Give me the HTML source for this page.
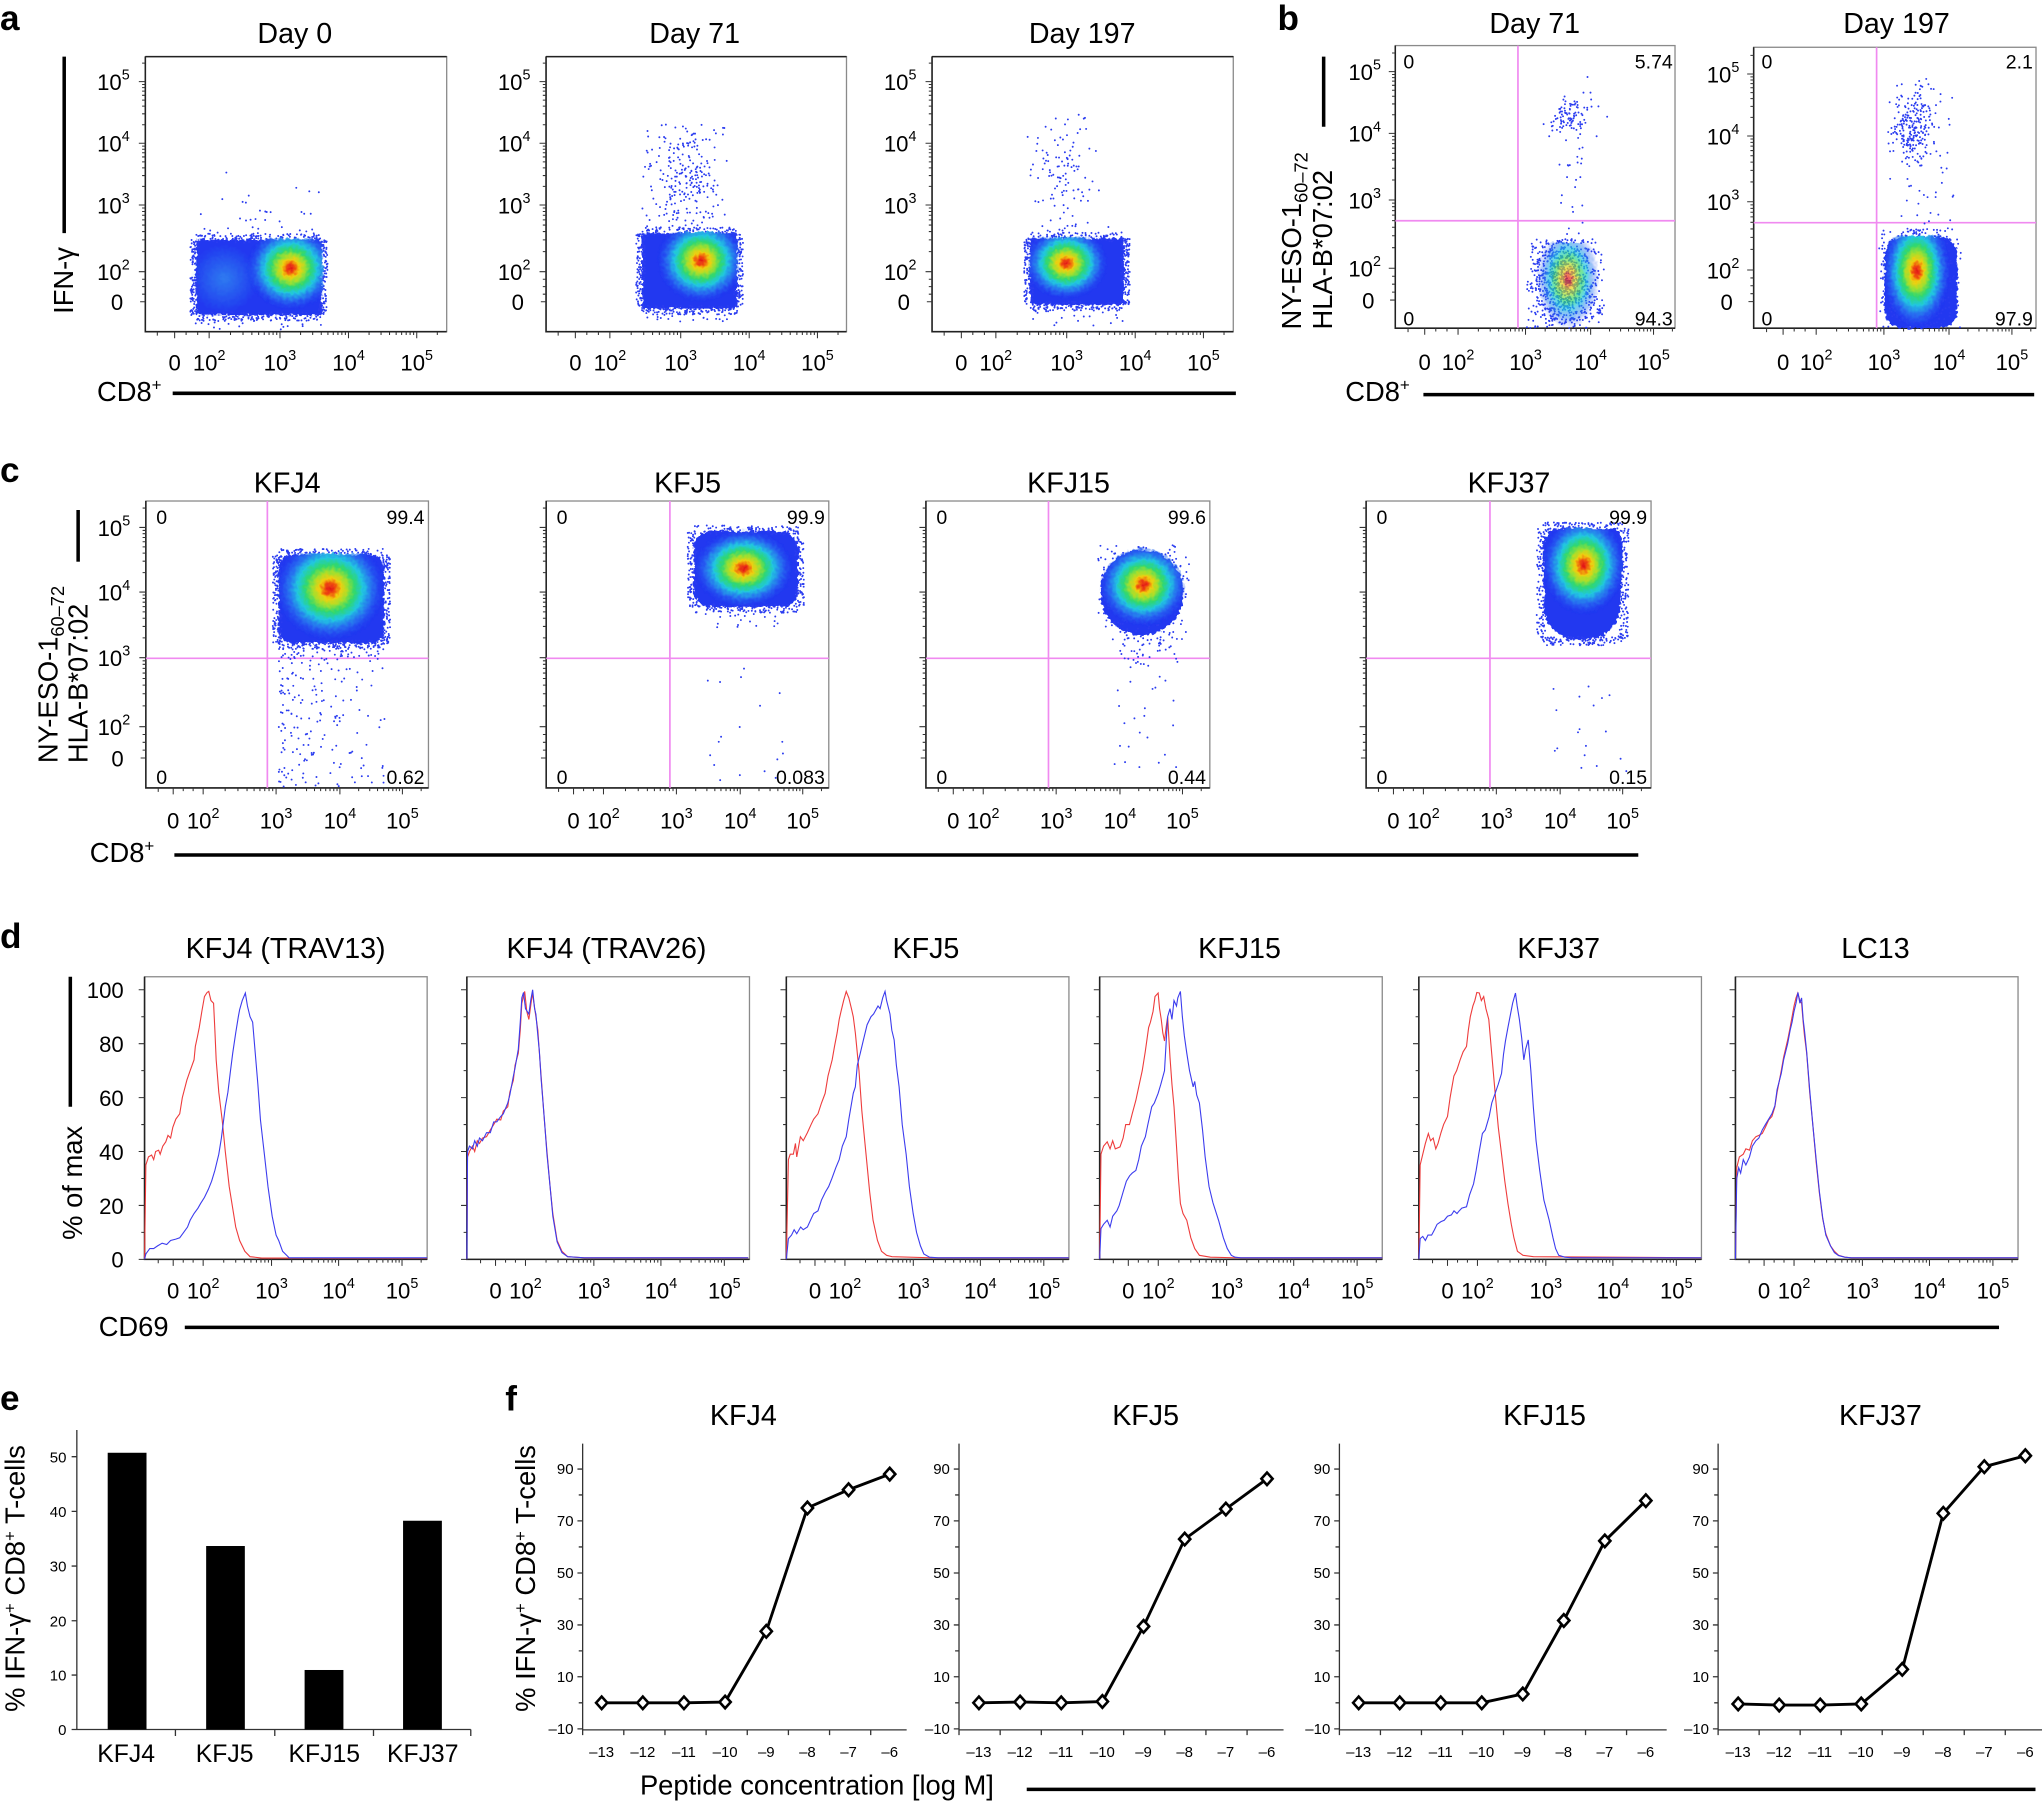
<!DOCTYPE html>
<html><head><meta charset="utf-8">
<style>
html,body{margin:0;padding:0;background:#fff;}
svg{display:block;}
text{font-family:"Liberation Sans",Arial,sans-serif;fill:#000;}
.tt{font-size:22px;text-anchor:middle}
.tk{font-size:17px}
.sp{font-size:11px}
.cn{font-size:15px}
.al{font-size:21px}
.lb{font-size:27px;font-weight:bold}
.sm{font-size:11.5px}
.bx{font-size:19px;text-anchor:middle}
.e{text-anchor:end}
.m{text-anchor:middle}
.box{fill:none;stroke:#8a8a8a;stroke-width:1}
.ax{stroke:#222;stroke-width:1.2;fill:none}
.pk{stroke:#f08af0;stroke-width:1.3}
.thick{stroke:#000;stroke-width:2.7}
.hr{fill:none;stroke:#ee3c3c;stroke-width:1.1}
.hb{fill:none;stroke:#3c3cee;stroke-width:1.1}
.blue{fill:#2038f0}
</style></head>
<body>
<svg width="2042" height="1804" viewBox="0 0 1568 1385.2" preserveAspectRatio="none" xmlns="http://www.w3.org/2000/svg">
<defs>
<radialGradient id="heat">
<stop offset="0" stop-color="#e0101a"/>
<stop offset="0.1" stop-color="#f05010"/>
<stop offset="0.2" stop-color="#f0d010"/>
<stop offset="0.32" stop-color="#a0e030"/>
<stop offset="0.45" stop-color="#30d870"/>
<stop offset="0.6" stop-color="#20c8e0"/>
<stop offset="0.78" stop-color="#2a80f0" stop-opacity="0.7"/>
<stop offset="1" stop-color="#2140f2" stop-opacity="0"/>
</radialGradient>
<radialGradient id="lite">
<stop offset="0" stop-color="#38a8f0" stop-opacity="0.6"/>
<stop offset="1" stop-color="#38a8f0" stop-opacity="0"/>
</radialGradient>
<filter id="rough" x="-2%" y="-5%" width="104%" height="110%">
<feTurbulence type="fractalNoise" baseFrequency="0.4" numOctaves="1" seed="3" result="n"/>
<feDisplacementMap in="SourceGraphic" in2="n" scale="5" xChannelSelector="R" yChannelSelector="G"/>
</filter>
<clipPath id="ca0"><rect x="149" y="183" width="99" height="60"/></clipPath>
<clipPath id="ca1"><rect x="492" y="178" width="75" height="60"/></clipPath>
<clipPath id="ca2"><rect x="790" y="182" width="74" height="53"/></clipPath>
<clipPath id="cb0"><rect x="1174" y="186" width="56" height="66" rx="8"/></clipPath>
<clipPath id="cb1"><rect x="1446" y="181" width="58" height="71" rx="14"/></clipPath>
<clipPath id="cc0"><rect x="213" y="425" width="83" height="70" rx="11"/></clipPath>
<clipPath id="cc1"><rect x="531.6" y="407" width="82.2" height="60" rx="13"/></clipPath>
<clipPath id="cc2"><ellipse cx="877" cy="455" rx="33" ry="34"/></clipPath>
<clipPath id="cc3"><path d="M1184.5 420 Q1186 405.7 1200 405.7 L1236 405.7 Q1246 406 1246 420 L1244 470 Q1238 491 1215 491 Q1190 491 1186 470 Z"/></clipPath>
</defs>
<rect x="0" y="0" width="1568" height="1385.2" fill="#fff"/>

<!-- ============ PANEL A ============ -->
<text class="lb" x="0" y="23">a</text>
<text class="tt" x="226.4" y="33">Day 0</text>
<text class="tt" x="533.4" y="33">Day 71</text>
<text class="tt" x="831" y="33">Day 197</text>

<rect class="box" x="111.6" y="43.5" width="231.4" height="211.2"/>
<rect class="box" x="419.3" y="43.5" width="230.7" height="211.2"/>
<rect class="box" x="715.7" y="43.5" width="231.3" height="211.2"/>
<path class="ax" d="M111.6 43.5H343M111.6 43.5V254.7H343M419.3 43.5H650M419.3 43.5V254.7H650M715.7 43.5H947M715.7 43.5V254.7H947"/>

<text class="tk e" x="99.6" y="69.1">10<tspan class="sp" dy="-8">5</tspan></text>
<text class="tk e" x="99.6" y="116.4">10<tspan class="sp" dy="-8">4</tspan></text>
<text class="tk e" x="99.6" y="163.8">10<tspan class="sp" dy="-8">3</tspan></text>
<text class="tk e" x="99.6" y="215">10<tspan class="sp" dy="-8">2</tspan></text>
<text class="tk e" x="94.6" y="238.1">0</text>
<text class="tk e" x="407.3" y="69.1">10<tspan class="sp" dy="-8">5</tspan></text>
<text class="tk e" x="407.3" y="116.4">10<tspan class="sp" dy="-8">4</tspan></text>
<text class="tk e" x="407.3" y="163.8">10<tspan class="sp" dy="-8">3</tspan></text>
<text class="tk e" x="407.3" y="215">10<tspan class="sp" dy="-8">2</tspan></text>
<text class="tk e" x="402.3" y="238.1">0</text>
<text class="tk e" x="703.7" y="69.1">10<tspan class="sp" dy="-8">5</tspan></text>
<text class="tk e" x="703.7" y="116.4">10<tspan class="sp" dy="-8">4</tspan></text>
<text class="tk e" x="703.7" y="163.8">10<tspan class="sp" dy="-8">3</tspan></text>
<text class="tk e" x="703.7" y="215">10<tspan class="sp" dy="-8">2</tspan></text>
<text class="tk e" x="698.7" y="238.1">0</text>
<text class="tk m" x="134.1" y="284.6">0</text>
<text class="tk m" x="160.6" y="284.6">10<tspan class="sp" dy="-8">2</tspan></text>
<text class="tk m" x="215" y="284.6">10<tspan class="sp" dy="-8">3</tspan></text>
<text class="tk m" x="267.6" y="284.6">10<tspan class="sp" dy="-8">4</tspan></text>
<text class="tk m" x="320" y="284.6">10<tspan class="sp" dy="-8">5</tspan></text>
<text class="tk m" x="441.8" y="284.6">0</text>
<text class="tk m" x="468.3" y="284.6">10<tspan class="sp" dy="-8">2</tspan></text>
<text class="tk m" x="522.7" y="284.6">10<tspan class="sp" dy="-8">3</tspan></text>
<text class="tk m" x="575.3" y="284.6">10<tspan class="sp" dy="-8">4</tspan></text>
<text class="tk m" x="627.7" y="284.6">10<tspan class="sp" dy="-8">5</tspan></text>
<text class="tk m" x="738.2" y="284.6">0</text>
<text class="tk m" x="764.7" y="284.6">10<tspan class="sp" dy="-8">2</tspan></text>
<text class="tk m" x="819.1" y="284.6">10<tspan class="sp" dy="-8">3</tspan></text>
<text class="tk m" x="871.7" y="284.6">10<tspan class="sp" dy="-8">4</tspan></text>
<text class="tk m" x="924.1" y="284.6">10<tspan class="sp" dy="-8">5</tspan></text>

<text class="al" transform="translate(56,241) rotate(-90)">IFN-γ</text>
<line class="thick" x1="49.3" y1="43.5" x2="49.3" y2="179"/>
<text class="al" x="74.5" y="308">CD8<tspan dy="-8" font-size="13">+</tspan></text>
<line class="thick" x1="132.6" y1="302" x2="949" y2="302"/>

<!-- ============ PANEL B ============ -->
<text class="lb" x="981" y="23">b</text>
<text class="tt" x="1178.5" y="25.3">Day 71</text>
<text class="tt" x="1456.3" y="25.3">Day 197</text>
<rect class="box" x="1071.4" y="35" width="214.8" height="217"/>
<rect class="box" x="1346.6" y="36.3" width="216.8" height="215.7"/>
<path class="ax" d="M1071.4 35V252H1286.2M1346.6 36.3V252H1563.4"/>
<path class="pk" d="M1165.6 35V252M1071.4 169.5H1286.2M1441 36.3V252M1346.6 171H1563.4"/>
<text class="cn" x="1077.6" y="52.5">0</text>
<text class="cn e" x="1284.5" y="52.5">5.74</text>
<text class="cn" x="1077.6" y="250">0</text>
<text class="cn e" x="1284.5" y="250">94.3</text>
<text class="cn" x="1352.6" y="52.5">0</text>
<text class="cn e" x="1561" y="52.5">2.1</text>
<text class="cn" x="1352.6" y="250">0</text>
<text class="cn e" x="1561" y="250">97.9</text>

<text class="tk e" x="1060.4" y="61.4">10<tspan class="sp" dy="-8">5</tspan></text>
<text class="tk e" x="1060.4" y="108.8">10<tspan class="sp" dy="-8">4</tspan></text>
<text class="tk e" x="1060.4" y="160">10<tspan class="sp" dy="-8">3</tspan></text>
<text class="tk e" x="1060.4" y="212.4">10<tspan class="sp" dy="-8">2</tspan></text>
<text class="tk e" x="1055.4" y="236.8">0</text>
<text class="tk e" x="1335.6" y="63.2">10<tspan class="sp" dy="-8">5</tspan></text>
<text class="tk e" x="1335.6" y="110.8">10<tspan class="sp" dy="-8">4</tspan></text>
<text class="tk e" x="1335.6" y="161.3">10<tspan class="sp" dy="-8">3</tspan></text>
<text class="tk e" x="1335.6" y="213.7">10<tspan class="sp" dy="-8">2</tspan></text>
<text class="tk e" x="1330.6" y="238">0</text>

<text class="tk m" x="1094" y="284">0</text>
<text class="tk m" x="1119.6" y="284">10<tspan class="sp" dy="-8">2</tspan></text>
<text class="tk m" x="1171.4" y="284">10<tspan class="sp" dy="-8">3</tspan></text>
<text class="tk m" x="1221.4" y="284">10<tspan class="sp" dy="-8">4</tspan></text>
<text class="tk m" x="1269.7" y="284">10<tspan class="sp" dy="-8">5</tspan></text>
<text class="tk m" x="1369.2" y="284">0</text>
<text class="tk m" x="1394.6" y="284">10<tspan class="sp" dy="-8">2</tspan></text>
<text class="tk m" x="1446.6" y="284">10<tspan class="sp" dy="-8">3</tspan></text>
<text class="tk m" x="1496.6" y="284">10<tspan class="sp" dy="-8">4</tspan></text>
<text class="tk m" x="1544.9" y="284">10<tspan class="sp" dy="-8">5</tspan></text>

<text class="al" transform="translate(999,253) rotate(-90)">NY-ESO-1<tspan dy="5" font-size="14">60–72</tspan></text>
<text class="al" transform="translate(1023,253) rotate(-90)">HLA-B*07:02</text>
<line class="thick" x1="1016.4" y1="43.5" x2="1016.4" y2="97.3"/>
<text class="al" x="1033" y="308">CD8<tspan dy="-8" font-size="13">+</tspan></text>
<line class="thick" x1="1093" y1="303" x2="1562" y2="303"/>

<!-- ============ PANEL C ============ -->
<text class="lb" x="0" y="370">c</text>
<text class="tt" x="220.5" y="378">KFJ4</text>
<text class="tt" x="528" y="378">KFJ5</text>
<text class="tt" x="820.5" y="378">KFJ15</text>
<text class="tt" x="1158.7" y="378">KFJ37</text>
<rect class="box" x="112" y="384.7" width="217" height="220.3"/>
<rect class="box" x="419.4" y="384.7" width="217" height="220.3"/>
<rect class="box" x="711" y="384.7" width="218" height="220.3"/>
<rect class="box" x="1049" y="384.7" width="218.8" height="220.3"/>
<path class="ax" d="M112 384.7V605H329M419.4 384.7V605H636.4M711 384.7V605H929M1049 384.7V605H1267.8"/>
<path class="pk" d="M205.3 384.7V605M112 505.5H329M514.4 384.7V605M419.4 505.5H636.4M805.1 384.7V605M711 505.5H929M1144.1 384.7V605M1049 505.5H1267.8"/>
<text class="cn" x="120" y="402.5">0</text><text class="cn e" x="326" y="402.5">99.4</text>
<text class="cn" x="120" y="602">0</text><text class="cn e" x="326" y="602">0.62</text>
<text class="cn" x="427.4" y="402.5">0</text><text class="cn e" x="633.4" y="402.5">99.9</text>
<text class="cn" x="427.4" y="602">0</text><text class="cn e" x="633.4" y="602">0.083</text>
<text class="cn" x="719" y="402.5">0</text><text class="cn e" x="926" y="402.5">99.6</text>
<text class="cn" x="719" y="602">0</text><text class="cn e" x="926" y="602">0.44</text>
<text class="cn" x="1057" y="402.5">0</text><text class="cn e" x="1264.8" y="402.5">99.9</text>
<text class="cn" x="1057" y="602">0</text><text class="cn e" x="1264.8" y="602">0.15</text>

<text class="tk e" x="100" y="411.4">10<tspan class="sp" dy="-8">5</tspan></text>
<text class="tk e" x="100" y="461">10<tspan class="sp" dy="-8">4</tspan></text>
<text class="tk e" x="100" y="511.4">10<tspan class="sp" dy="-8">3</tspan></text>
<text class="tk e" x="100" y="564.4">10<tspan class="sp" dy="-8">2</tspan></text>
<text class="tk e" x="95" y="588.4">0</text>

<text class="tk m" x="133" y="636">0</text>
<text class="tk m" x="156" y="636">10<tspan class="sp" dy="-8">2</tspan></text>
<text class="tk m" x="212" y="636">10<tspan class="sp" dy="-8">3</tspan></text>
<text class="tk m" x="261" y="636">10<tspan class="sp" dy="-8">4</tspan></text>
<text class="tk m" x="309" y="636">10<tspan class="sp" dy="-8">5</tspan></text>
<text class="tk m" x="440.4" y="636">0</text>
<text class="tk m" x="463.4" y="636">10<tspan class="sp" dy="-8">2</tspan></text>
<text class="tk m" x="519.4" y="636">10<tspan class="sp" dy="-8">3</tspan></text>
<text class="tk m" x="568.4" y="636">10<tspan class="sp" dy="-8">4</tspan></text>
<text class="tk m" x="616.4" y="636">10<tspan class="sp" dy="-8">5</tspan></text>
<text class="tk m" x="732" y="636">0</text>
<text class="tk m" x="755" y="636">10<tspan class="sp" dy="-8">2</tspan></text>
<text class="tk m" x="811" y="636">10<tspan class="sp" dy="-8">3</tspan></text>
<text class="tk m" x="860" y="636">10<tspan class="sp" dy="-8">4</tspan></text>
<text class="tk m" x="908" y="636">10<tspan class="sp" dy="-8">5</tspan></text>
<text class="tk m" x="1070" y="636">0</text>
<text class="tk m" x="1093" y="636">10<tspan class="sp" dy="-8">2</tspan></text>
<text class="tk m" x="1149" y="636">10<tspan class="sp" dy="-8">3</tspan></text>
<text class="tk m" x="1198" y="636">10<tspan class="sp" dy="-8">4</tspan></text>
<text class="tk m" x="1246" y="636">10<tspan class="sp" dy="-8">5</tspan></text>

<text class="al" transform="translate(44,586) rotate(-90)">NY-ESO-1<tspan dy="5" font-size="14">60–72</tspan></text>
<text class="al" transform="translate(67,586) rotate(-90)">HLA-B*07:02</text>
<line class="thick" x1="60" y1="391.6" x2="60" y2="431.3"/>
<text class="al" x="68.9" y="662">CD8<tspan dy="-8" font-size="13">+</tspan></text>
<line class="thick" x1="133.9" y1="656.5" x2="1258" y2="656.5"/>

<!-- ============ DENSITY BLOBS ============ -->
<g filter="url(#rough)">
<g id="bases">
<rect class="blue" x="150.7" y="184" width="96.3" height="58" rx="3"/>
<ellipse cx="172" cy="214" rx="26" ry="26" fill="url(#lite)"/>
<rect class="blue" x="493" y="179" width="73" height="58" rx="3"/>
<rect class="blue" x="791" y="183" width="72" height="51" rx="3"/>
<rect class="blue" x="1447" y="182" width="56" height="70" rx="14"/>
<rect class="blue" x="214" y="426" width="81" height="68" rx="11"/>
<rect class="blue" x="532.6" y="408" width="80.2" height="58" rx="13"/>
<ellipse class="blue" cx="877" cy="455" rx="32" ry="33"/>
<path class="blue" d="M1184.5 420 Q1186 405.7 1200 405.7 L1236 405.7 Q1246 406 1246 420 L1244 470 Q1238 491 1215 491 Q1190 491 1186 470 Z"/>
</g>
</g>
<g id="dotsg"></g>
<g id="cores" filter="url(#rough)">
<ellipse cx="223.3" cy="206" rx="34" ry="32" fill="url(#heat)" clip-path="url(#ca0)"/>
<ellipse cx="538.3" cy="200" rx="34" ry="32" fill="url(#heat)" clip-path="url(#ca1)"/>
<ellipse cx="818.6" cy="202" rx="32" ry="28" fill="url(#heat)" clip-path="url(#ca2)"/>
<ellipse cx="1204" cy="214" rx="24" ry="38" fill="url(#heat)" opacity="0.7" clip-path="url(#cb0)"/>
<ellipse cx="1471.7" cy="208" rx="26" ry="44" fill="url(#heat)" clip-path="url(#cb1)"/>
<ellipse cx="253.5" cy="452" rx="42" ry="40" fill="url(#heat)" clip-path="url(#cc0)"/>
<ellipse cx="571" cy="436.4" rx="38" ry="30" fill="url(#heat)" clip-path="url(#cc1)"/>
<ellipse cx="878" cy="449" rx="34" ry="32" fill="url(#heat)" clip-path="url(#cc2)"/>
<ellipse cx="1216" cy="434" rx="32" ry="38" fill="url(#heat)" clip-path="url(#cc3)"/>
</g>

<!-- ============ PANEL D ============ -->
<text class="lb" x="0" y="728">d</text>
<text class="tt" x="219.3" y="735.5">KFJ4 (TRAV13)</text>
<text class="tt" x="465.7" y="735.5">KFJ4 (TRAV26)</text>
<text class="tt" x="711" y="735.5">KFJ5</text>
<text class="tt" x="951.8" y="735.5">KFJ15</text>
<text class="tt" x="1196.9" y="735.5">KFJ37</text>
<text class="tt" x="1440.1" y="735.5">LC13</text>
<rect class="box" x="111" y="750" width="217" height="217"/>
<rect class="box" x="358.5" y="750" width="217" height="217"/>
<rect class="box" x="603.8" y="750" width="217" height="217"/>
<rect class="box" x="844.4" y="750" width="217" height="217"/>
<rect class="box" x="1089.5" y="750" width="217" height="217"/>
<rect class="box" x="1332.6" y="750" width="217" height="217"/>
<path class="ax" d="M111 750V967H328M358.5 750V967H575.5M603.8 750V967H820.8M844.4 750V967H1061.4M1089.5 750V967H1306.5M1332.6 750V967H1549.6"/>

<text class="tk e" x="95" y="766.4">100</text>
<text class="tk e" x="95" y="807.8">80</text>
<text class="tk e" x="95" y="849.2">60</text>
<text class="tk e" x="95" y="890.6">40</text>
<text class="tk e" x="95" y="932">20</text>
<text class="tk e" x="95" y="973.4">0</text>

<g transform="translate(111,967) scale(1,-2.07)">
<polyline class="hr" vector-effect="non-scaling-stroke" points="0,0 1,35 3,38 5.4,38.7 7,37 8.5,40 10.8,40.5 12,39 14,42 16.3,43.6 18,46 20,45 21.7,49 24,52 27,54 29,60 32.5,66.5 35,70 38,74 39,79 40.6,82.6 42,86 44,92 46,97.5 48,99 49.3,99.4 51,96 53,95 54,85 55,74 57,62 59.6,51.7 62,40 65,27 68,18 70,12 73,7 77,3 81,1 90,0.5 111,0.5 217,0.5"/>
<polyline class="hb" vector-effect="non-scaling-stroke" points="0,0 1,2 4,4 7,4 10,5 13.5,6 17,5.5 20,7 24,7.5 27,8 30,10 33,12 35,14.5 38,17 41,19 43,20.7 46,23 49,26 51.5,29 54,33 57,39 59,45 62,56.6 64,62 66,70 67.7,76.5 70,84 72,90 73,92.6 75,96 77.4,98.8 79,94 81,90 83,88 85,76.5 87,65 89,51.7 92,39 94.8,26.9 98,16 101,9 103,7 106,3 111,0.6 217,0.6"/>
</g>
<g transform="translate(358.5,967) scale(1,-2.07)">
<polyline class="hr" vector-effect="non-scaling-stroke" points="0,0 0.5,38 2,40 4.3,42 6,40 8,44 9.7,43 12,45 15.1,45.5 18,48 20.6,50 23,52 26,51.7 28,55 31.4,56.6 33,62 35.7,66.5 37,72 39.5,76.5 41,85 42.2,95 44.4,99.4 46,92 47.6,89 49,94 50.3,98.8 51.5,95 53,90 54.5,85 55.7,76.5 57,68 59.5,51.7 61.5,40 63.9,26.9 66,17 69.3,7 73,3 77.4,1 90,0.6 216,0.6"/>
<polyline class="hb" vector-effect="non-scaling-stroke" points="0,0 0.5,40 2,42 4.3,41 6,44 8,42 9.7,45 12,44 15.1,47 18,47 20.6,51 23,51 26,53 28,54 31.4,58 33,61 35.7,68 37,71 39.5,78 41,88 42.2,97 43.5,99 45,93 47.6,91 49,96 50.5,100 52,93 53,91 54.5,83 55.7,77 57,67 59.5,52 61.5,39 63.9,27 66,16 69.3,6.5 73,2.5 77.4,1 90,0.6 216,0.6"/>
</g>
<g transform="translate(603.8,967) scale(1,-2.07)">
<polyline class="hr" vector-effect="non-scaling-stroke" points="0,0 1.6,37 3,39 5.4,39 7,43 8,38 10.8,45.5 13,44 16.2,47 19,50 21,52 24.3,54 27,58 29.8,61.6 32,68 35.2,74 37,79 39,84 40.6,89 42,92 44,96 46,99.4 48,97 50,93 51.4,90 53,84 55.8,70 58,55 61.2,39 64,25 66.6,14.5 70,7 73.1,3 77,1.5 81.2,1 111,0.6 217,0.6"/>
<polyline class="hb" vector-effect="non-scaling-stroke" points="0,0 1.6,7.7 4,9 6,11 8,9.5 11,12 13,11 16.2,12 19,15 21,17 24.3,18 27,22 30,25 32.5,27 35,30 38,34 40.6,37 43,42 46,45.5 48,52 51.4,61.6 53,64 54.5,72 56.8,76.5 59,81 62,87 65,90 67,91 70.4,94 72,93 74,97 75.8,99.4 77,96 79.6,91 81,85 82.8,81.4 84.5,72 86.6,64 89,50 92,39 94.5,27 97.4,17 100,10 103,5 105.6,2 110,0.8 116.4,0.6 217,0.6"/>
</g>
<g transform="translate(844.4,967) scale(1,-2.07)">
<polyline class="hr" vector-effect="non-scaling-stroke" points="0,0 1,39 3,42 5.8,43.6 8,41 10,44 12,41 15.6,41.7 18,45 20,50 22.9,50 25,54 27.8,59 30,64 32.7,70 35,77 37.6,86 39,88 41,92 42.5,97.5 44.9,98.8 46,93 47.3,89 48.5,84 49.8,81 51,86 52.2,90 54,75 55.5,65 57.1,56.6 59,42 60.5,30 62,20.7 64,17 66.9,14.5 70,8 73,4 76.6,1.5 85,0.8 103.5,0.6 217,0.6"/>
<polyline class="hb" vector-effect="non-scaling-stroke" points="0,0 1,11.4 3,13 5.8,14.5 8,12 10,16 13.2,18 15,20 18,25 20.5,29 23,31 25,32 27.8,33 30,37 32,42 35.1,45.5 37,50 40,56.6 42,58 44.9,61.6 47,65 49.8,70 51,80 52.2,90 54,93 55.5,89 57.1,96 59,94 60,97 62,99.4 63.5,90 65,83 66.9,76.5 69,70 71.8,64 73,66 74.5,61 76.6,58 79,48 81,38 84,27 87,21 91.3,14.5 95,8 98,4 101.1,1.5 104,0.8 108.4,0.6 217,0.6"/>
</g>
<g transform="translate(1089.5,967) scale(1,-2.07)">
<polyline class="hr" vector-effect="non-scaling-stroke" points="0,0 1,35 3,39 5,43 7.3,46.7 9,44 11,45 13,41 14.7,43 17,47 19,50 22,53 24,60 26.9,68 29,70 31.7,74 34,77 36.6,79 38,85 39.5,90 41.5,94 43,96 44.5,99 46.4,98.8 48,96 49.8,97.5 51.5,93 53.7,89 56,76 58.6,61.6 61,49 63.5,39 66,29 68.4,20.7 71,13 73,8 75.7,3 80,1.5 88,1 217,0.6"/>
<polyline class="hb" vector-effect="non-scaling-stroke" points="0,0 1,7.7 3,8.5 5,7 7,9 9.8,9 12,11 14,13 17,14 19.5,14.5 22,16 25,16.5 27,18 29.3,17 31,18 33,19 36.6,19.5 39,24 42,28 44,33 46,39 48.8,46.7 51,48 54,53 56,58 58.6,61.6 61,65 63.5,69 65,76 66.5,81 68.4,86 70,90 72,95 74.2,98.8 75.5,94 77.2,89 79,82 80.6,74 82,78 84,81.4 86,70 87.9,56.6 90,44 92.8,33 96,22 100.1,14.5 103,8 105,4 107.4,1.5 112,0.8 117.2,0.6 217,0.6"/>
</g>
<g transform="translate(1332.6,967) scale(1,-2.07)">
<polyline class="hr" vector-effect="non-scaling-stroke" points="0,0 1,34 3,38 6,39 8,41 10.8,40.5 13,44 15.7,45.5 18,46 20.6,46.7 23,49 25.5,51.7 28,53 30.3,56.6 32,62 35.2,70 37,75 40.1,81.4 42,86 43.5,90 45,94 46.5,97 47.9,98.8 49.5,96 50.8,95 52,88 53,83 54.7,76.5 57,62 59.6,49 62,36 64.5,24.4 67,15 69.4,9.5 73,5 76,3 79.2,1.5 84,0.8 88.9,0.6 217,0.6"/>
<polyline class="hb" vector-effect="non-scaling-stroke" points="0,0 1,30 2.5,34 4,32 6,37 8,35 10.8,38 13,42 15.7,44 18,45 20.6,48 23,50 25.5,52 28,54 30.3,57 32,63 35.2,69 37,74 40.1,80 42,85 43.5,88 45,92 46.5,95 48,99 49.5,95 50.8,97 52,89 53,85 54.7,77 57,63 59.6,49 62,37 64.5,25 67,15.5 69.4,9 73,5 76,2.5 79.2,1.4 84,0.8 88.9,0.6 217,0.6"/>
</g>

<text class="tk m" x="133" y="997">0</text><text class="tk m" x="156" y="997">10<tspan class="sp" dy="-8">2</tspan></text><text class="tk m" x="208.5" y="997">10<tspan class="sp" dy="-8">3</tspan></text><text class="tk m" x="260" y="997">10<tspan class="sp" dy="-8">4</tspan></text><text class="tk m" x="308.7" y="997">10<tspan class="sp" dy="-8">5</tspan></text>
<text class="tk m" x="380.5" y="997">0</text><text class="tk m" x="403.5" y="997">10<tspan class="sp" dy="-8">2</tspan></text><text class="tk m" x="456" y="997">10<tspan class="sp" dy="-8">3</tspan></text><text class="tk m" x="507.5" y="997">10<tspan class="sp" dy="-8">4</tspan></text><text class="tk m" x="556.2" y="997">10<tspan class="sp" dy="-8">5</tspan></text>
<text class="tk m" x="625.8" y="997">0</text><text class="tk m" x="648.8" y="997">10<tspan class="sp" dy="-8">2</tspan></text><text class="tk m" x="701.3" y="997">10<tspan class="sp" dy="-8">3</tspan></text><text class="tk m" x="752.8" y="997">10<tspan class="sp" dy="-8">4</tspan></text><text class="tk m" x="801.5" y="997">10<tspan class="sp" dy="-8">5</tspan></text>
<text class="tk m" x="866.4" y="997">0</text><text class="tk m" x="889.4" y="997">10<tspan class="sp" dy="-8">2</tspan></text><text class="tk m" x="941.9" y="997">10<tspan class="sp" dy="-8">3</tspan></text><text class="tk m" x="993.4" y="997">10<tspan class="sp" dy="-8">4</tspan></text><text class="tk m" x="1042.1" y="997">10<tspan class="sp" dy="-8">5</tspan></text>
<text class="tk m" x="1111.5" y="997">0</text><text class="tk m" x="1134.5" y="997">10<tspan class="sp" dy="-8">2</tspan></text><text class="tk m" x="1187" y="997">10<tspan class="sp" dy="-8">3</tspan></text><text class="tk m" x="1238.5" y="997">10<tspan class="sp" dy="-8">4</tspan></text><text class="tk m" x="1287.2" y="997">10<tspan class="sp" dy="-8">5</tspan></text>
<text class="tk m" x="1354.6" y="997">0</text><text class="tk m" x="1377.6" y="997">10<tspan class="sp" dy="-8">2</tspan></text><text class="tk m" x="1430.1" y="997">10<tspan class="sp" dy="-8">3</tspan></text><text class="tk m" x="1481.6" y="997">10<tspan class="sp" dy="-8">4</tspan></text><text class="tk m" x="1530.3" y="997">10<tspan class="sp" dy="-8">5</tspan></text>

<text class="al" transform="translate(63,952) rotate(-90)">% of max</text>
<line class="thick" x1="54" y1="750" x2="54" y2="849.8"/>
<text class="al" x="75.8" y="1025.7">CD69</text>
<line class="thick" x1="141.9" y1="1019.2" x2="1535" y2="1019.2"/>

<!-- ============ PANEL E ============ -->
<text class="lb" x="0" y="1082.7">e</text>
<path d="M59 1098V1328M56.7 1328H361.5M59 1118.5h-4M59 1160.5h-4M59 1202.5h-4M59 1244.5h-4M59 1286.2h-4M59 1328h-4M134.7 1328v5M211 1328v5M286.8 1328v5M361.5 1328v5" stroke="#333" stroke-width="1" fill="none"/>
<text class="sm e" x="51" y="1122.8">50</text>
<text class="sm e" x="51" y="1164.8">40</text>
<text class="sm e" x="51" y="1206.8">30</text>
<text class="sm e" x="51" y="1248.8">20</text>
<text class="sm e" x="51" y="1290.5">10</text>
<text class="sm e" x="51" y="1332.3">0</text>
<rect x="82.7" y="1115.5" width="29.8" height="212.5" fill="#000"/>
<rect x="158.3" y="1187.1" width="29.7" height="140.9" fill="#000"/>
<rect x="233.9" y="1282.3" width="29.8" height="45.7" fill="#000"/>
<rect x="309.5" y="1167.7" width="29.8" height="160.3" fill="#000"/>
<text class="bx" x="96.9" y="1352.8">KFJ4</text>
<text class="bx" x="172.5" y="1352.8">KFJ5</text>
<text class="bx" x="249" y="1352.8">KFJ15</text>
<text class="bx" x="324.6" y="1352.8">KFJ37</text>
<text class="al m" transform="translate(19,1212) rotate(-90)">% IFN-γ<tspan dy="-7" font-size="13">+</tspan><tspan dy="7"> CD8</tspan><tspan dy="-7" font-size="13">+</tspan><tspan dy="7"> T-cells</tspan></text>

<!-- ============ PANEL F ============ -->
<text class="lb" x="388" y="1083">f</text>
<text class="tt" x="570.8" y="1094">KFJ4</text>
<text class="tt" x="879.7" y="1094">KFJ5</text>
<text class="tt" x="1186" y="1094">KFJ15</text>
<text class="tt" x="1443.9" y="1094">KFJ37</text>
<text class="al m" transform="translate(411,1212) rotate(-90)">% IFN-γ<tspan dy="-7" font-size="13">+</tspan><tspan dy="7"> CD8</tspan><tspan dy="-7" font-size="13">+</tspan><tspan dy="7"> T-cells</tspan></text>
<g id="fax"></g>
<g stroke="#000" stroke-width="2.2" fill="none" stroke-linejoin="round">
<polyline points="462,1307.5 493.6,1307.5 525.2,1307.5 556.8,1306.9 588.4,1252.6 620,1157.9 651.6,1143.9 683.2,1131.9"/>
<polyline points="751.7,1307.5 783.3,1306.9 814.9,1307.5 846.5,1306.5 878.1,1248.8 909.7,1181.8 941.3,1158.7 972.9,1135.5"/>
<polyline points="1043.3,1307.5 1074.8,1307.5 1106.3,1307.5 1137.8,1307.5 1169.3,1300.7 1200.8,1244.3 1232.3,1183.2 1263.8,1152.3"/>
<polyline points="1334.7,1308.4 1366.2,1309.2 1397.7,1309.2 1429.2,1308.4 1460.7,1281.8 1492.2,1162 1523.7,1126.2 1555.2,1117.8"/>
</g>
<g id="diam" fill="#fff" stroke="#000" stroke-width="2"></g>

<text class="al" x="491.4" y="1378">Peptide concentration [log M]</text>
<line class="thick" x1="788.4" y1="1374" x2="1563" y2="1374"/>

<g id="ticks"></g>
</svg>

<script>
(function(){
var NS='http://www.w3.org/2000/svg';
function mb(a){return function(){a|=0;a=a+0x6D2B79F5|0;var t=Math.imul(a^a>>>15,1|a);t=t+Math.imul(t^t>>>7,61|t)^t;return((t^t>>>14)>>>0)/4294967296;}}
var R=mb(20240607);
function G(){var u=1-R(),v=R();return Math.sqrt(-2*Math.log(u))*Math.cos(6.2831853*v);}
var d='';
function P(x,y){d+='M'+x.toFixed(1)+' '+y.toFixed(1)+'h.01';}
function unif(x0,y0,x1,y1,n,fy,fx){for(var i=0;i<n;i++){var a=R(),t=R();if(fx)a=fx(a);if(fy)t=fy(t);P(x0+(x1-x0)*a,y0+(y1-y0)*t);}}
function gau(cx,cy,sx,sy,n,cl){for(var i=0;i<n;i++){var x=cx+sx*G(),y=cy+sy*G();if(cl&&(x<cl[0]||x>cl[2]||y<cl[1]||y>cl[3]))continue;P(x,y);}}
function edge(x0,y0,x1,y1,n,j){for(var i=0;i<n;i++){var s=(R()*4)|0,t=R(),o=(R()-0.35)*j,x,y;
 if(s==0){x=x0+(x1-x0)*t;y=y0-o;}else if(s==1){x=x0+(x1-x0)*t;y=y1+o;}else if(s==2){x=x0-o;y=y0+(y1-y0)*t;}else{x=x1+o;y=y0+(y1-y0)*t;}P(x,y);}}
edge(150.7,184,247,242,520,7); unif(150,125,245,184,45,function(t){return Math.sqrt(t);}); unif(150,242,247,253,25);
edge(493,179,566,237,460,7); gau(526,137,15,30,320,[491,95,562,181]); unif(493,237,566,247,35);
edge(791,183,863,234,460,7); gau(818,130,13,32,140,[788,88,858,184]); unif(791,234,863,250,30);
gau(1202,216,14,22,1100,[1172,183,1232,252]); gau(1206,88,8,9,100); unif(1195,100,1216,183,25);
gau(1474,214,14,24,1100,[1443,175,1506,252]); gau(1468,98,9,14,220); unif(1452,60,1500,180,60);
edge(214,426,295,494,520,7); unif(214,494,296,507,70);
unif(214,507,296,604,170,null,function(a){return Math.pow(a,1.6);});
edge(532.6,408,612.8,466,420,7); unif(540,466,605,482,25); unif(540,505,605,600,18);
gau(877,452,17,18,700,[843,418,913,492]); unif(858,485,905,507,45); unif(852,507,905,590,30);
edge(1184.5,405.7,1246,491,460,7); unif(1190,525,1250,600,18);
var p=document.createElementNS(NS,'path');p.setAttribute('d',d);p.setAttribute('stroke','#2a3cf0');p.setAttribute('stroke-width','1.5');p.setAttribute('stroke-linecap','round');p.setAttribute('fill','none');
document.getElementById('dotsg').appendChild(p);

var tk='';
function Ln(x1,y1,x2,y2){tk+='M'+x1.toFixed(1)+' '+y1.toFixed(1)+'L'+x2.toFixed(1)+' '+y2.toFixed(1);}
function lg(m){return Math.log(m)/Math.LN10;}
function yLog(L,T,yd){Ln(L,yd[0],L-4,yd[0]);for(var j=1;j<4;j++){var q=yd[0]+(yd[1]-yd[0])*j/4;Ln(L,q,L-2.5,q);}
 for(var k=1;k<=4;k++){Ln(L,yd[k],L-5,yd[k]);var sp=(k<4)?(yd[k]-yd[k+1]):(yd[3]-yd[4]);for(var m=2;m<10;m++){var q=yd[k]-sp*lg(m);if(q>T+1)Ln(L,q,L-2.5,q);}}}
function xLog(L,R2,B,xd){Ln(xd[0],B,xd[0],B+5);for(var j=1;j<3;j++){var q=xd[0]-(xd[1]-xd[0])*j/2;if(q>L+1)Ln(q,B,q,B+3);q=xd[0]+(xd[1]-xd[0])*j/3;Ln(q,B,q,B+2.5);}
 for(var k=1;k<=4;k++){Ln(xd[k],B,xd[k],B+5);var sp=(k<4)?(xd[k+1]-xd[k]):(xd[4]-xd[3]);for(var m=2;m<10;m++){var q=xd[k]+sp*lg(m);if(q<R2-1)Ln(q,B,q,B+2.5);}}}
function off(L,a){return a.map(function(v){return L+v;});}
var A=[[111.6,343],[419.3,650],[715.7,947]];
A.forEach(function(b){yLog(b[0],43.5,[231.7,208.6,157.4,110,62.7]);xLog(b[0],b[1],254.7,off(b[0],[22.5,49,103.4,156,208.4]));});
yLog(1071.4,35,[230.4,206,153.6,102.4,55]);xLog(1071.4,1286.2,252,off(1071.4,[22.6,48.2,100,150,198.3]));
yLog(1346.6,36.3,[231.6,207.3,154.9,104.4,56.8]);xLog(1346.6,1563.4,252,off(1346.6,[22.6,48,100,150,198.3]));
[[112,329],[419.4,636.4],[711,929],[1049,1267.8]].forEach(function(b){yLog(b[0],384.7,[582,558,505,454.6,405]);xLog(b[0],b[1],605,off(b[0],[21,44,100,149,197]));});
[111,358.5,603.8,844.4,1089.5,1332.6].forEach(function(L){for(var v=0;v<=100;v+=10){var q=967-v*2.07;Ln(L,q,L-(v%20?2.5:4.5),q);}xLog(L,L+217,967,off(L,[22,45,97.5,149,197.7]));});
var tp=document.createElementNS(NS,'path');tp.setAttribute('d',tk);tp.setAttribute('stroke','#333');tp.setAttribute('stroke-width','0.8');tp.setAttribute('fill','none');
document.getElementById('ticks').appendChild(tp);

var fax=document.getElementById('fax');var fd='';
var plots=[[447.4,696.2,462,31.6],[736.4,985.6,751.7,31.6],[1028.5,1279.8,1043.3,31.5],[1319.3,1568,1334.7,31.5]];
var labs=['–13','–12','–11','–10','–9','–8','–7','–6'];
plots.forEach(function(p){
 fd+='M'+p[0]+' 1108.5V1328.3M'+p[0]+' 1328.3H'+p[1];
 for(var v=-10;v<=90;v+=10){var y=1307.5-1.995*v;fd+='M'+p[0]+' '+y.toFixed(1)+'h'+((v+10)%20==0?-4:-3);
  if((v+10)%20==0){var t=document.createElementNS(NS,'text');t.setAttribute('class','sm e');t.setAttribute('x',p[0]-7);t.setAttribute('y',(y+4).toFixed(1));t.textContent=(v<0?'–10':String(v));fax.appendChild(t);}}
 for(var j=0;j<8;j++){var x=p[0]+p[3]*j;fd+='M'+x.toFixed(1)+' 1328.3v4';var xx=p[2]+p[3]*j;var t=document.createElementNS(NS,'text');t.setAttribute('class','sm m');t.setAttribute('x',xx.toFixed(1));t.setAttribute('y','1349');t.textContent=labs[j];fax.appendChild(t);}
});
var fp=document.createElementNS(NS,'path');fp.setAttribute('d',fd);fp.setAttribute('stroke','#333');fp.setAttribute('stroke-width','1');fp.setAttribute('fill','none');fax.appendChild(fp);
var pts=[[462,1307.5],[493.6,1307.5],[525.2,1307.5],[556.8,1306.9],[588.4,1252.6],[620,1157.9],[651.6,1143.9],[683.2,1131.9],
[751.7,1307.5],[783.3,1306.9],[814.9,1307.5],[846.5,1306.5],[878.1,1248.8],[909.7,1181.8],[941.3,1158.7],[972.9,1135.5],
[1043.3,1307.5],[1074.8,1307.5],[1106.3,1307.5],[1137.8,1307.5],[1169.3,1300.7],[1200.8,1244.3],[1232.3,1183.2],[1263.8,1152.3],
[1334.7,1308.4],[1366.2,1309.2],[1397.7,1309.2],[1429.2,1308.4],[1460.7,1281.8],[1492.2,1162],[1523.7,1126.2],[1555.2,1117.8]];
var dg=document.getElementById('diam');var dd='';
pts.forEach(function(q){var x=q[0],y=q[1];dd+='M'+(x-4.3).toFixed(1)+' '+y+'L'+x+' '+(y-4.8).toFixed(1)+'L'+(x+4.3).toFixed(1)+' '+y+'L'+x+' '+(y+4.8).toFixed(1)+'Z';});
var dp=document.createElementNS(NS,'path');dp.setAttribute('d',dd);dg.appendChild(dp);
})();
</script>
</body></html>
